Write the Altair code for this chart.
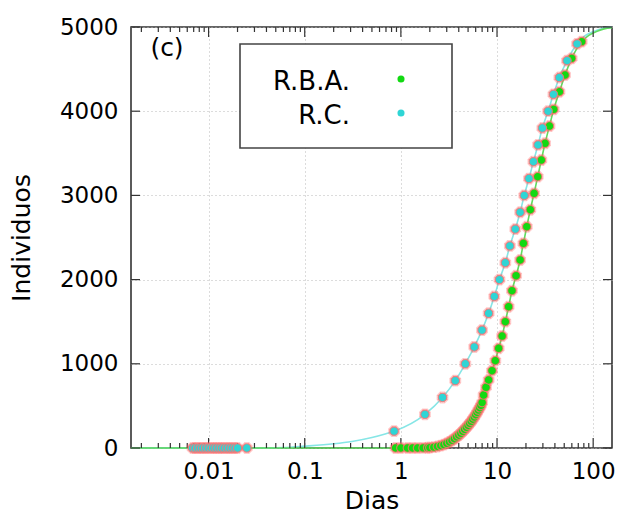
import altair as alt
import pandas as pd

FONT = "DejaVu Sans"
W, H = 481, 421

# ---- data: R.C. (cyan) ----
rc_x = [0.0068, 0.0072, 0.0077, 0.0082, 0.0087, 0.0093, 0.0099, 0.0106, 0.0113,
        0.012, 0.0128, 0.0136, 0.0145, 0.0155, 0.0165, 0.0176, 0.0188, 0.02, 0.025,
        0.85, 1.78, 2.71, 3.68, 4.68, 5.8, 6.98, 8.18, 9.37, 10.6, 12.2, 13.6, 15.5,
        17.4, 19.2, 21.5, 23.9, 26.7, 29.6, 34, 38.6, 44.5, 53.5, 68]
rc_y = [0, 0, 0, 0, 0, 0, 0, 0, 0, 0, 0, 0, 0, 0, 0, 0, 0, 0, 0,
        200, 400, 600, 800, 1000, 1200, 1400, 1600, 1800, 2000, 2200, 2400, 2600,
        2800, 3000, 3200, 3400, 3600, 3800, 4000, 4200, 4400, 4600, 4800]

# ---- data: R.B.A. (green) ----
rba_x = [0.88, 1.0, 1.17, 1.32, 1.49, 1.7, 1.9,
         2.0, 2.2, 2.4, 2.6, 2.8, 3.0, 3.2, 3.4, 3.6, 3.8, 4.0, 4.2, 4.4, 4.6, 4.8,
         5.0, 5.2, 5.4, 5.6, 5.8, 6.0, 6.2, 6.4, 6.6, 6.8, 7.0,
         7.25, 7.68, 8.18, 8.87, 9.6, 10.4, 11.3, 12.2, 13.2, 14.3, 15.8, 17.4,
         18.8, 20.4, 22.2, 24.3, 26.5, 28.9, 31.6, 35.1, 38.9, 44.6, 51, 59.8, 76]
rba_y = [0, 0, 0, 0, 0, 1, 3,
         5, 10, 18, 28, 40, 55, 72, 90, 110, 132, 152, 175, 198, 222, 245,
         268, 292, 316, 342, 368, 395, 422, 450, 478, 505, 540,
         629, 721, 808, 918, 1037, 1184, 1330, 1500, 1678, 1868, 2046, 2233,
         2431, 2628, 2830, 3025, 3222, 3420, 3619, 3824, 4022, 4231, 4430, 4628, 4826]

# ---- fitted curves (extra points) ----
rc_line_head_x = [0.00156, 0.03, 0.06, 0.1, 0.2, 0.31, 0.5, 0.7]
rc_line_head_y = [0, 0, 6, 22, 50, 78, 125, 170]
rc_line_tail_x = [80, 100, 127, 157]
rc_line_tail_y = [4885, 4945, 4985, 4998]
rba_line_head_x = [0.00156, 1.5]
rba_line_head_y = [0, 0]
rba_line_tail_x = [90, 110, 130, 157]
rba_line_tail_y = [4900, 4950, 4978, 4992]

# ---- axes ----
x_major = [0.01, 0.1, 1, 10, 100]
x_decades = [0.001, 0.01, 0.1, 1, 10]
x_mult = [2, 3, 4, 5, 6, 7, 8, 9]
y_major = [0, 1000, 2000, 3000, 4000, 5000]

CYAN = "#2fd5d5"
GREEN = "#12d912"
CYAN_LINE = "#86e6e6"
GREEN_LINE = "#5fdc5f"
RED = "#ff5a5a"

rc = pd.DataFrame({"x": rc_x, "y": rc_y})
rba = pd.DataFrame({"x": rba_x, "y": rba_y})
rc_pts_line = [(a, b) for a, b in zip(rc_x, rc_y) if a >= 0.85]
rc_line = pd.DataFrame({
    "x": rc_line_head_x + [p[0] for p in rc_pts_line] + rc_line_tail_x,
    "y": rc_line_head_y + [p[1] for p in rc_pts_line] + rc_line_tail_y})
rba_pts_line = [(a, b) for a, b in zip(rba_x, rba_y) if a >= 1.7]
rba_line = pd.DataFrame({
    "x": rba_line_head_x + [p[0] for p in rba_pts_line] + rba_line_tail_x,
    "y": rba_line_head_y + [p[1] for p in rba_pts_line] + rba_line_tail_y})

xs = alt.Scale(type="log", domain=[0.00156, 157], nice=False)
ys = alt.Scale(domain=[0, 5000], nice=False, zero=False)

x_axis = alt.Axis(values=x_major, format="~g", grid=True, gridDash=[1, 3],
                  gridColor="#b8b8b8", gridWidth=1, ticks=False, tickSize=0,
                  domain=False, labelFont=FONT, labelFontSize=23, labelColor="black",
                  labelPadding=12, labelFlush=False, labelOverlap=False,
                  title="Dias", titleFont=FONT, titleFontSize=25,
                  titleFontWeight="normal", titleColor="black",
                  titleBaseline="alphabetic", titleY=60)
y_axis = alt.Axis(values=y_major, format="d", grid=True, gridDash=[1, 3],
                  gridColor="#b8b8b8",
                  gridWidth=1, ticks=False, tickSize=0, domain=False,
                  labelFont=FONT, labelFontSize=23, labelColor="black",
                  labelPadding=13, labelFlush=False, labelOverlap=False,
                  title="Individuos", titleFont=FONT, titleFontSize=25,
                  titleFontWeight="normal", titleColor="black", titlePadding=25)

base_lines = alt.Chart(rc_line).mark_line(color=CYAN_LINE, strokeWidth=1.6,
                                          interpolate="monotone").encode(
    x=alt.X("x:Q", scale=xs, axis=x_axis),
    y=alt.Y("y:Q", scale=ys, axis=y_axis))
green_line = alt.Chart(rba_line).mark_line(color=GREEN_LINE, strokeWidth=1.6,
                                           interpolate="monotone").encode(
    x=alt.X("x:Q", scale=xs), y=alt.Y("y:Q", scale=ys))

minor_ticks = pd.DataFrame({"x": [d * m for d in x_decades for m in x_mult
                                  if 0.00156 <= d * m <= 157]})
major_ticks = pd.DataFrame({"x": x_major})
ymaj = pd.DataFrame({"y": y_major})

def xticks(df, ln):
    b = alt.Chart(df).mark_rule(color="#333333", strokeWidth=1.2)
    return [b.encode(x=alt.X("x:Q", scale=xs), y=alt.value(H), y2=alt.value(H - ln)),
            b.encode(x=alt.X("x:Q", scale=xs), y=alt.value(0), y2=alt.value(ln))]

yb = alt.Chart(ymaj).mark_rule(color="#333333", strokeWidth=1.2)
yticks = [yb.encode(y=alt.Y("y:Q", scale=ys), x=alt.value(0), x2=alt.value(9)),
          yb.encode(y=alt.Y("y:Q", scale=ys), x=alt.value(W), x2=alt.value(W - 9))]

def halo(df):
    layers = []
    for ang in (0, 45):
        layers.append(alt.Chart(df).mark_point(shape="cross", filled=True, size=140,
                                               color=RED, opacity=0.3, angle=ang).encode(
            x=alt.X("x:Q", scale=xs), y=alt.Y("y:Q", scale=ys)))
    return layers

def pts(df, col):
    return alt.Chart(df).mark_point(shape="circle", filled=True, size=72, color=col,
                                    opacity=1, stroke="#ff7070", strokeWidth=1.1,
                                    strokeOpacity=0.8).encode(
        x=alt.X("x:Q", scale=xs), y=alt.Y("y:Q", scale=ys))

dummy = pd.DataFrame({"a": [0]})
legend_box = alt.Chart(dummy).mark_rect(fill="white", stroke="#444444",
                                        strokeWidth=1.6).encode(
    x=alt.value(109), x2=alt.value(321), y=alt.value(17), y2=alt.value(121))
leg_text1 = alt.Chart(dummy).mark_text(align="right", baseline="alphabetic", font=FONT,
                                       fontSize=26, color="black").encode(
    x=alt.value(219), y=alt.value(63), text=alt.value("R.B.A."))
leg_text2 = alt.Chart(dummy).mark_text(align="right", baseline="alphabetic", font=FONT,
                                       fontSize=26, color="black").encode(
    x=alt.value(219), y=alt.value(97), text=alt.value("R.C."))
leg_pt1 = alt.Chart(dummy).mark_point(shape="circle", filled=True, size=50, color=GREEN,
                                      opacity=1).encode(x=alt.value(270), y=alt.value(52))
leg_pt2 = alt.Chart(dummy).mark_point(shape="circle", filled=True, size=50, color=CYAN,
                                      opacity=1).encode(x=alt.value(270), y=alt.value(86))
label_c = alt.Chart(dummy).mark_text(align="center", baseline="alphabetic", font=FONT,
                                     fontSize=25, color="black").encode(
    x=alt.value(36), y=alt.value(29), text=alt.value("(c)"))

layers = [base_lines, green_line] + xticks(minor_ticks, 5) + xticks(major_ticks, 10) + yticks
layers += halo(rba) + halo(rc) + [pts(rba, GREEN), pts(rc, CYAN)]
layers += [legend_box, leg_text1, leg_text2, leg_pt1, leg_pt2, label_c]

chart = alt.layer(*layers).properties(
    width=W, height=H,
    autosize=alt.AutoSizeParams(type="none"),
    padding={"left": 123, "top": 19, "right": 3, "bottom": 66},
).configure_view(stroke="#333333", strokeWidth=1.6)

chart.save("out.html", embed_options={"renderer": "svg", "actions": False})
